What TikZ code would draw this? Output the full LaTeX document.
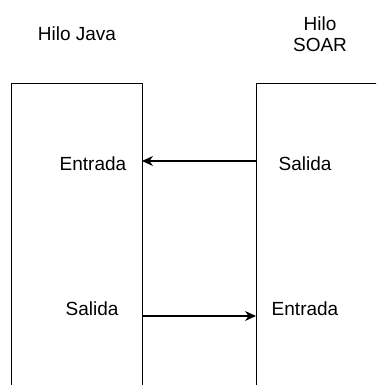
\documentclass[tikz,border=0pt]{standalone}
\usepackage{fontspec}
\setmainfont{Liberation Sans}
\usetikzlibrary{arrows.meta}
\begin{document}
\begin{tikzpicture}[x=1pt,y=-1pt,font=\fontsize{19}{21}\selectfont,line width=1.2pt]
    \useasboundingbox (0,0) rectangle (376,385);
    \clip (0,0) rectangle (376,385);
    \node[shape=rectangle,draw=black,minimum width=131pt,minimum height=400pt,anchor=north west] (java) at (11,83) {};
    \node[shape=rectangle,draw=black,minimum width=160pt,minimum height=400pt,anchor=north west] (soar) at (256,83) {};
    \node (titlejava) at (77,34) {Hilo Java};
    \node[align=center] (titlesoar) at (320,34) {Hilo\\SOAR};
    \node (injava) at (93,164) {Entrada};
    \node (outsoar) at (305,164) {Salida};
    \node (outjava) at (92,309) {Salida};
    \node (insoar) at (305,309) {Entrada};
    \coordinate (s1) at (256,161);
    \coordinate (e1) at (142,161);
    \coordinate (s2) at (142,316);
    \coordinate (e2) at (256,316);
    \path [-{Stealth[length=11pt,width=10pt]}] (s1) edge (e1);
    \path [-{Stealth[length=11pt,width=10pt]}] (s2) edge (e2);
\end{tikzpicture}
\end{document}
